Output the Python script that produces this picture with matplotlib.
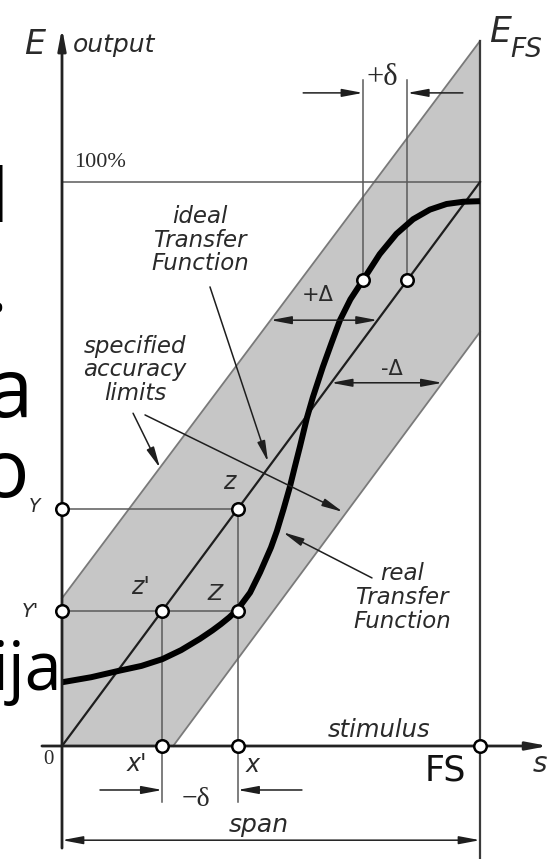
import matplotlib
matplotlib.use("Agg")
import matplotlib.pyplot as plt
from matplotlib.patches import Polygon

# ---- transfer function data (stimulus s as fraction of FS, output E as fraction of 100%) ----
ideal_s = [0.0, 1.0]
ideal_E = [0.0, 1.0]

upper_limit_s = [0.0, 1.0]
upper_limit_E = [0.262, 1.25]
lower_limit_s = [0.266, 1.0]
lower_limit_E = [0.0, 0.734]

real_s = [0.00, 0.07, 0.14, 0.19, 0.24, 0.285, 0.33, 0.36, 0.38, 0.40, 0.42, 0.45, 0.474,
          0.50, 0.514, 0.53, 0.545, 0.557, 0.569, 0.586, 0.60, 0.624, 0.645, 0.665, 0.69,
          0.72, 0.76, 0.80, 0.84, 0.88, 0.92, 0.96, 1.00]
real_E = [0.113, 0.122, 0.134, 0.142, 0.154, 0.170, 0.19, 0.205, 0.216, 0.228, 0.242,
          0.272, 0.308, 0.352, 0.381, 0.42, 0.459, 0.495, 0.53, 0.582, 0.618, 0.672,
          0.715, 0.755, 0.792, 0.826, 0.872, 0.908, 0.934, 0.951, 0.961, 0.965, 0.966]

x_prime = 0.24          # x'
x_point = 0.42          # x
Y_level = 0.42          # Y  (ideal output at x)
Y_prime_level = 0.24    # Y' (real output at x)
top_level = 0.826       # output level for the +delta pair
s_real_top = 0.72
s_ideal_top = 0.826
plus_Delta_level = 0.755
minus_Delta_level = 0.644

# ---- styling ----
GRAY_FILL = "#c6c6c6"
EDGE = "#7a7a7a"
GUIDE = "#5a5a5a"
INK = "#1e1e1e"
LABEL = "#2a2a2a"

fig = plt.figure(figsize=(5.57, 8.59), dpi=100)
ax = fig.add_axes([0, 0, 1, 1])
ax.set_xlim(-62 / 418, 495 / 418)
ax.set_ylim(-113 / 564, 746 / 564)
ax.axis("off")

# accuracy band
band = Polygon([(0, 0), (upper_limit_s[0], upper_limit_E[0]), (upper_limit_s[1], upper_limit_E[1]),
                (lower_limit_s[1], lower_limit_E[1]), (lower_limit_s[0], lower_limit_E[0])],
               closed=True, facecolor=GRAY_FILL, edgecolor="none", zorder=1)
ax.add_patch(band)
ax.plot(upper_limit_s, upper_limit_E, color=EDGE, lw=1.3, zorder=2)
ax.plot(lower_limit_s, lower_limit_E, color=EDGE, lw=1.3, zorder=2)

# guide lines
gl = dict(color=GUIDE, lw=1.1, zorder=3)
ax.plot([0, 1], [1, 1], **gl)                                   # 100 % level
ax.plot([1, 1], [upper_limit_E[1], -0.2], color="#3a3a3a", lw=1.6, zorder=3)   # FS
ax.plot([0, x_point], [Y_level, Y_level], **gl)
ax.plot([0, x_point], [Y_prime_level, Y_prime_level], **gl)
ax.plot([x_point, x_point], [Y_level, -0.099], **gl)
ax.plot([x_prime, x_prime], [Y_prime_level, -0.099], **gl)
ax.plot([s_real_top, s_real_top], [top_level, 1.181], **gl)
ax.plot([s_ideal_top, s_ideal_top], [top_level, 1.181], **gl)

# ideal and real transfer functions
ax.plot(ideal_s, ideal_E, color=INK, lw=1.6, zorder=4)
ax.plot(real_s, real_E, color="black", lw=4.3, zorder=5, solid_capstyle="butt",
        solid_joinstyle="round")

# axes
def arrow(p0, p1, lw=1.1, color=INK, style="-|>,head_length=0.9,head_width=0.17", z=6):
    ax.annotate("", xy=p1, xytext=p0,
                arrowprops=dict(arrowstyle=style, lw=lw, color=color,
                                shrinkA=0, shrinkB=0, mutation_scale=14),
                zorder=z)

arrow((0, -0.181), (0, 1.273), lw=2.0, color="#222222")
arrow((-0.048, 0), (1.163, 0), lw=2.0, color="#222222")

# marked points
pts_s = [0, 0, x_prime, x_point, 1, x_prime, x_point, x_point, s_real_top, s_ideal_top]
pts_E = [Y_level, Y_prime_level, 0, 0, 0, Y_prime_level, Y_level, Y_prime_level,
         top_level, top_level]
ax.plot(pts_s, pts_E, "o", ms=9, mfc="white", mec="black", mew=1.8, zorder=8)

# delta / Delta dimension arrows
arrow((0.577, 1.158), (s_real_top, 1.158))
arrow((0.959, 1.158), (s_ideal_top, 1.158))
arrow((0.0909, -0.078), (x_prime, -0.078))
arrow((0.574, -0.078), (x_point, -0.078))
dbl = "<|-|>,head_length=0.9,head_width=0.17"
arrow((0, -0.167), (1, -0.167), style=dbl)
s_up = (plus_Delta_level - upper_limit_E[0]) / (upper_limit_E[1] - upper_limit_E[0])
arrow((s_up, plus_Delta_level), (plus_Delta_level, plus_Delta_level), style=dbl)
arrow((minus_Delta_level, minus_Delta_level),
      (minus_Delta_level + lower_limit_s[0], minus_Delta_level), style=dbl)

# callout leaders
arrow((0.354, 0.814), (0.493, 0.5035))
arrow((0.170, 0.590), (0.2344, 0.493))
arrow((0.1986, 0.587), (0.672, 0.415))
arrow((0.7416, 0.298), (0.5287, 0.379))

# labels
sans_it = dict(family="DejaVu Sans", style="italic", color=LABEL)
serif = dict(family="Liberation Serif", color=LABEL)

ax.text(-0.0646, 1.243, "E", fontsize=24, ha="center", va="center", zorder=9, **sans_it)
ax.text(0.026, 1.2305, "output", fontsize=18, ha="left", va="baseline", zorder=9, **sans_it)
ax.text(0.0287, 1.0266, "100%", fontsize=16, ha="left", va="baseline", zorder=9, **serif)
ax.text(1.0215, 1.248, "E", fontsize=25, ha="left", va="baseline", zorder=9, **sans_it)
ax.text(1.072, 1.222, "FS", fontsize=19, ha="left", va="baseline", zorder=9, **sans_it)
ax.text(0.7656, 1.172, "+δ", fontsize=22, ha="center", va="baseline", zorder=9, **serif)

ax.text(0.330, 0.897, "ideal\nTransfer\nFunction", fontsize=16.5, ha="center", va="center",
        linespacing=1.05, zorder=9, **sans_it)
ax.text(0.1746, 0.6667, "specified\naccuracy\nlimits", fontsize=16.5, ha="center",
        va="center", linespacing=1.05, zorder=9, **sans_it)
ax.text(0.813, 0.264, "real\nTransfer\nFunction", fontsize=16.5, ha="center", va="center",
        linespacing=1.05, zorder=9, **sans_it)

ax.text(0.612, 0.80, "+Δ", fontsize=15, ha="center", va="center", zorder=9,
        family="DejaVu Sans", color=LABEL)
ax.text(0.789, 0.668, "-Δ", fontsize=15, ha="center", va="center", zorder=9,
        family="DejaVu Sans", color=LABEL)

ax.text(0.40, 0.468, "z", fontsize=17, ha="center", va="center", zorder=9, **sans_it)
ax.text(0.187, 0.282, "z'", fontsize=17, ha="center", va="center", zorder=9, **sans_it)
ax.text(0.366, 0.2695, "Z", fontsize=16, ha="center", va="center", zorder=9, **sans_it)
ax.text(-0.066, 0.424, "Y", fontsize=13.5, ha="center", va="center", zorder=9, **sans_it)
ax.text(-0.0766, 0.239, "Y'", fontsize=14, ha="center", va="center", zorder=9, **sans_it)
ax.text(-0.0335, -0.0248, "0", fontsize=15, ha="center", va="center", zorder=9, **serif)
ax.text(0.179, -0.032, "x'", fontsize=17, ha="center", va="center", zorder=9, **sans_it)
ax.text(0.457, -0.0337, "x", fontsize=17, ha="center", va="center", zorder=9, **sans_it)
ax.text(0.3206, -0.0957, "−δ", fontsize=20, ha="center", va="center", zorder=9, **serif)
ax.text(0.471, -0.140, "span", fontsize=18, ha="center", va="center", zorder=9, **sans_it)
ax.text(0.758, 0.0284, "stimulus", fontsize=17.5, ha="center", va="center", zorder=9, **sans_it)
ax.text(0.916, -0.0426, "FS", fontsize=25, ha="center", va="center", zorder=9,
        family="DejaVu Sans", color="#111111")
ax.text(1.1435, -0.032, "s", fontsize=20, ha="center", va="center", zorder=9, **sans_it)

# slide text showing through at the left edge
big = dict(family="Open Sans", color="black", ha="right", va="baseline", zorder=10)
ax.text(-0.129, 0.929, "l", fontsize=54, **big)
ax.text(-0.1316, 0.7695, ".", fontsize=54, **big)
ax.text(-0.0718, 0.583, "a", fontsize=60, **big)
ax.text(-0.0790, 0.442, "o", fontsize=58, **big)
ax.text(0.0, 0.0993, "ija", fontsize=48, **big)

fig.savefig("out.png", dpi=100)
